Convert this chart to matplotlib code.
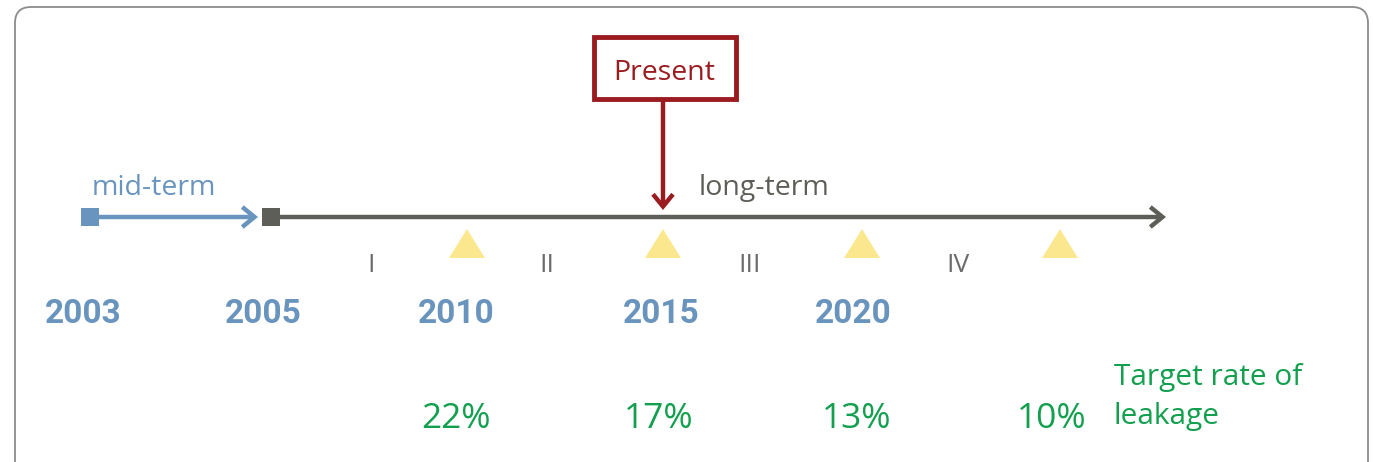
import matplotlib
matplotlib.use("Agg")
import matplotlib.pyplot as plt
from matplotlib.patches import FancyBboxPatch, FancyArrowPatch, Rectangle, Polygon

# ---- data ----
years = ["2003", "2005", "2010", "2015", "2020"]
phases = ["I", "II", "III", "IV"]
targets = ["22%", "17%", "13%", "10%"]
target_caption = ["Target rate of", "leakage"]
present_label = "Present"
mid_label = "mid-term"
long_label = "long-term"

# ---- layout (pixel positions on the canvas) ----
year_x = [83, 263, 456, 661, 853]
tri_x = [467, 663, 862, 1060]
phase_x = [371, 547, 750, 958]
target_x = [456, 659, 857, 1052]
mid_start, mid_end = 90, 258
long_start, long_end = 271, 1166
line_y = 217
present_x = 663

BLUE = "#6894BD"
GRAY = "#5E5E59"
GREEN = "#12A04E"
RED = "#9A1C20"
YELLOW = "#FBE88E"
FONT = "Roboto"
FONT2 = "Open Sans"

W, H = 1373, 462
fig = plt.figure(figsize=(W / 100, H / 100), dpi=100)
ax = fig.add_axes([0, 0, 1, 1])
ax.set_xlim(0, W)
ax.set_ylim(H, 0)
ax.axis("off")

# outer rounded frame
ax.add_patch(FancyBboxPatch((15, 7), 1353, 480, boxstyle="round,pad=0,rounding_size=16",
                            fc="none", ec="#8C8C8C", lw=1.3))

# mid-term arrow (blue)
ax.add_patch(FancyArrowPatch((mid_start, line_y), (mid_end, line_y),
                             arrowstyle="->,head_length=0.55,head_width=0.45",
                             mutation_scale=16, lw=3.2, color=BLUE, shrinkA=0, shrinkB=0,
                             capstyle="butt", joinstyle="miter"))
ax.plot([mid_start], [line_y], marker="s", ms=13.5, color=BLUE, mew=0)

# long-term arrow (gray)
ax.add_patch(FancyArrowPatch((long_start, line_y), (long_end, line_y),
                             arrowstyle="->,head_length=0.55,head_width=0.45",
                             mutation_scale=16, lw=3.2, color=GRAY, shrinkA=0, shrinkB=0,
                             capstyle="butt", joinstyle="miter"))
ax.plot([long_start], [line_y], marker="s", ms=13.5, color=GRAY, mew=0)

ax.text(92, 195, mid_label, color=BLUE, fontsize=20.5, family=FONT2, ha="left", va="baseline")
ax.text(699, 195, long_label, color=GRAY, fontsize=20.5, family=FONT2, ha="left", va="baseline")

# milestone triangles
for x in tri_x:
    ax.add_patch(Polygon([(x - 18, 258), (x + 18, 258), (x, 229)], closed=True,
                         fc=YELLOW, ec="none"))

# phases
for x, p in zip(phase_x, phases):
    ax.text(x, 272, p, color="#6B6B6B", fontsize=19, family=FONT2,
            ha="center", va="baseline")

# years
for x, y in zip(year_x, years):
    ax.text(x, 323, y, color=BLUE, fontsize=24, family=FONT, fontweight="bold",
            ha="center", va="baseline")

# targets
for x, t in zip(target_x, targets):
    ax.text(x, 428, t, color=GREEN, fontsize=25.5, family=FONT2, ha="center", va="baseline")
ax.text(1114, 385, target_caption[0], color=GREEN, fontsize=21.5, family=FONT2,
        ha="left", va="baseline")
ax.text(1114, 424, target_caption[1], color=GREEN, fontsize=21.5, family=FONT2,
        ha="left", va="baseline")

# Present box + arrow
ax.add_patch(Rectangle((594, 37), 142, 62, fc="white", ec=RED, lw=3.5))
ax.text(664, 80, present_label, color=RED, fontsize=20.5, family=FONT2, ha="center", va="baseline")
ax.add_patch(FancyArrowPatch((present_x, 99), (present_x, 210),
                             arrowstyle="->,head_length=0.55,head_width=0.45",
                             mutation_scale=16, lw=3.2, color=RED, shrinkA=0, shrinkB=0,
                             capstyle="butt", joinstyle="miter"))

fig.savefig("out.png", dpi=100)
